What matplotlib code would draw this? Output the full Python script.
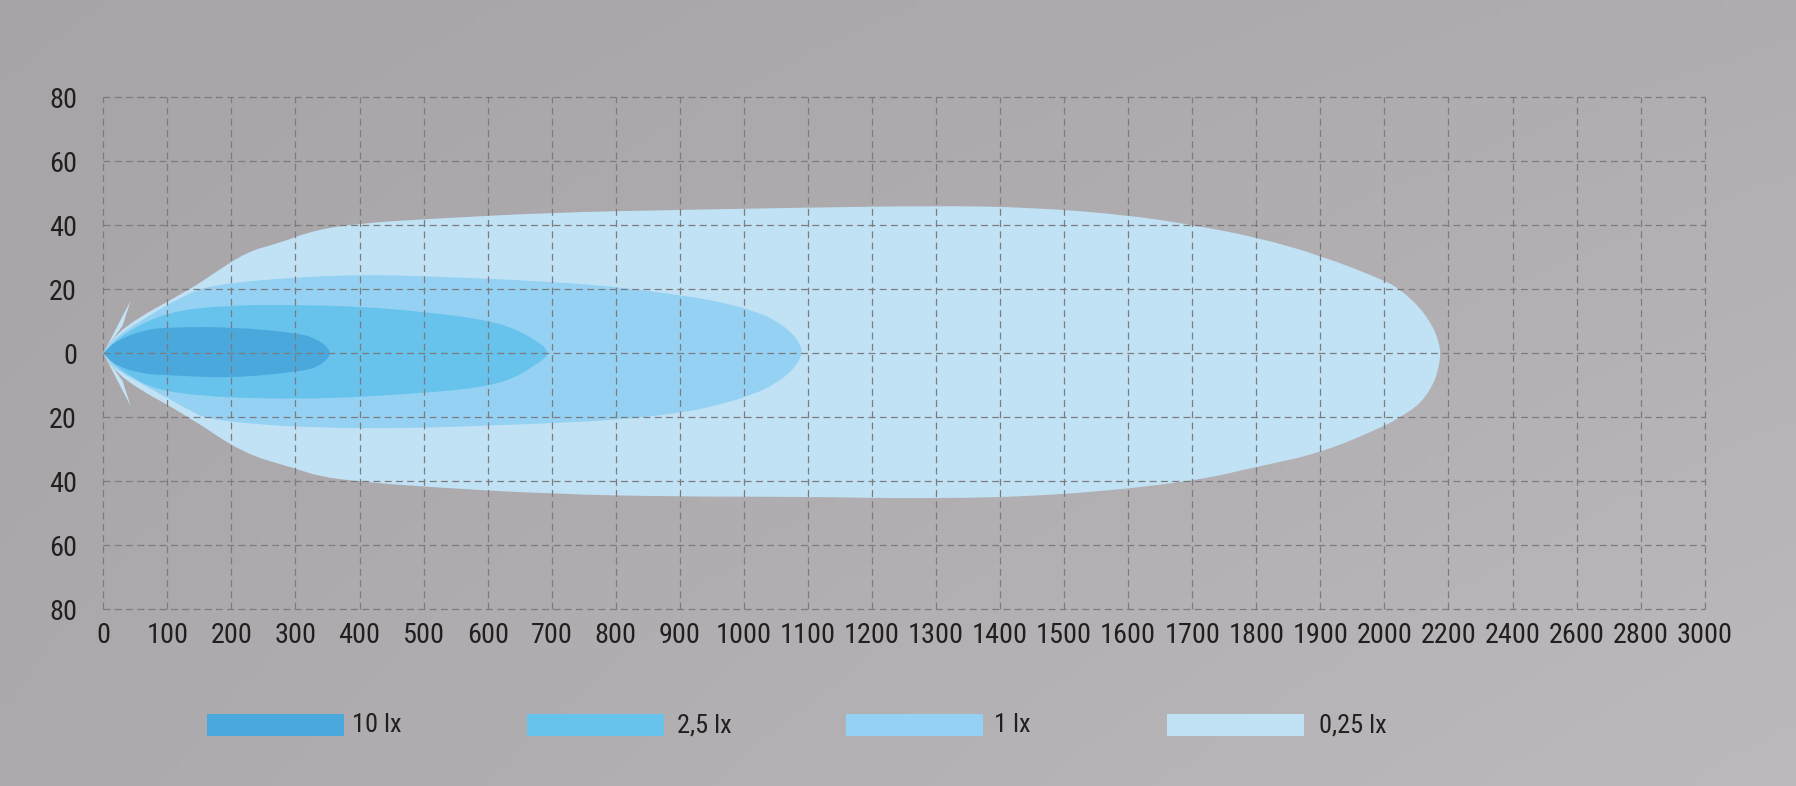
import numpy as np
import matplotlib
matplotlib.use("Agg")
import matplotlib.pyplot as plt
from matplotlib import font_manager as fm
from matplotlib.patches import Rectangle, PathPatch
from matplotlib.path import Path
from matplotlib.textpath import TextPath

# ---------------- data ----------------
X_TICKS = [0, 100, 200, 300, 400, 500, 600, 700, 800, 900, 1000, 1100, 1200, 1300,
           1400, 1500, 1600, 1700, 1800, 1900, 2000, 2200, 2400, 2600, 2800, 3000]
Y_TICKS = [-80, -60, -40, -20, 0, 20, 40, 60, 80]

LEVELS = ["10 lx", "2,5 lx", "1 lx", "0,25 lx"]
COLORS = ["#4aa8dc", "#67c3ec", "#94d1f3", "#c1e2f5"]

# 0,25 lx isoline (distance m, lateral m)
lx025_top_x = [0, 29, 134, 169, 225, 274, 330, 400, 500, 700, 900, 1090, 1300, 1450, 1600, 1700, 1800, 1900, 2000, 2048, 2110, 2152, 2168, 2176]
lx025_top_y = [0, 8.3, 19.8, 24.5, 31.8, 34.4, 38.5, 40.6, 41.9, 44.0, 44.8, 45.5, 46.1, 45.6, 43.2, 40.1, 36.3, 30.6, 22.8, 20.0, 14.5, 8.3, 4.0, 0]
lx025_bot_x = [0, 29, 134, 218, 299, 337, 400, 500, 700, 900, 1090, 1300, 1500, 1700, 1800, 1900, 2000, 2048, 2110, 2152, 2168, 2176]
lx025_bot_y = [0, -8.3, -19.8, -31.3, -35.9, -38.5, -40.1, -41.7, -44.0, -44.8, -44.8, -45.5, -44.3, -40.1, -35.5, -31.2, -22.8, -20.0, -16.0, -10.0, -5.0, 0]

# 1 lx isoline
lx1_top_x = [0, 15, 64, 127, 169, 299, 400, 499, 699, 800, 900, 960, 1010, 1048, 1074, 1087, 1092]
lx1_top_y = [0, 4.5, 10.9, 18.2, 21.4, 23.8, 24.5, 24.2, 22.4, 20.8, 18.2, 16.2, 13.6, 10.6, 6.6, 3.2, 0]
lx1_bot_x = [0, 15, 64, 127, 169, 400, 700, 800, 900, 960, 1010, 1048, 1079, 1092]
lx1_bot_y = [0, -4.5, -10.0, -17.0, -21.4, -24.0, -21.9, -20.8, -18.75, -16.2, -13.2, -9.8, -4.8, 0]

# 2,5 lx isoline
lx25_top_x = [0, 30, 99, 197, 309, 400, 500, 600, 647, 678, 690, 694]
lx25_top_y = [0, 6.0, 13.0, 15.1, 15.1, 14.6, 13.0, 10.4, 7.3, 3.6, 1.8, 0]
lx25_bot_x = [0, 30, 99, 309, 500, 600, 647, 678, 690, 694]
lx25_bot_y = [0, -6.0, -13.0, -14.6, -12.5, -10.4, -7.3, -3.1, -1.5, 0]

# 10 lx isoline
lx10_top_x = [0, 20, 64, 99, 197, 309, 335, 349, 355]
lx10_top_y = [0, 4.0, 7.3, 8.1, 8.3, 6.25, 4.2, 2.1, 0]
lx10_bot_x = [0, 20, 64, 99, 197, 309, 335, 349, 355]
lx10_bot_y = [0, -4.0, -6.5, -6.8, -7.8, -5.7, -4.2, -2.0, 0]

# lamp arrow barbs
arrow_x = [0, 43, 30, 10]
arrow_y = [0, 16.6, 8.6, 3.1]

# ---------------- font ----------------
RANK = {"ultra-condensed": 1, "extra-condensed": 2, "condensed": 3, "semi-condensed": 4}
SANS = ["Liberation Sans Narrow", "Roboto Condensed", "Open Sans Condensed", "Noto Sans",
        "Open Sans", "Roboto", "DejaVu Sans", "Liberation Sans", "Lato", "Inter"]

def _weight(w):
    if isinstance(w, str):
        return {"normal": 400, "regular": 400, "book": 400}.get(w.lower(), 0)
    return w

best = None
for f in fm.fontManager.ttflist:
    if f.name not in SANS or f.style != "normal" or _weight(f.weight) != 400:
        continue
    r = RANK.get(str(f.stretch), 5)
    if "Narrow" in f.name or "Condensed" in f.name:
        r = min(r, 3)
    key = (r, SANS.index(f.name))
    if best is None or key < best[0]:
        best = (key, f.fname)
FONT_FILE = best[1] if best else None

def fprop(size):
    if FONT_FILE:
        return fm.FontProperties(fname=FONT_FILE, size=size)
    return fm.FontProperties(family="DejaVu Sans", size=size)

def fit_size(text, target_px, max_size):
    w = TextPath((0, 0), text, prop=fprop(10)).get_extents().width
    s = 10 * target_px / (w * 100 / 72)
    return min(max_size, s)

TICK_SIZE = fit_size("1000", 52, 23)
LEG_SIZE = fit_size("0,25 lx", 75, 19)
TXT = "#231f20"

# ---------------- figure ----------------
W, H = 1796, 786
fig = plt.figure(figsize=(W / 100, H / 100), dpi=100)

# background
bg = fig.add_axes([0, 0, 1, 1], zorder=-10)
gx = np.linspace(0, 1, 200)
gy = np.linspace(0, 1, 100)
GX, GY = np.meshgrid(gx, gy)
val = 0.655 + 0.035 * GX + 0.05 * GY * (0.4 + 0.6 * GX)
img = np.clip(np.dstack([val, val * 0.985, val]), 0, 1)
bg.imshow(img, extent=[0, 1, 1, 0], aspect="auto")
bg.set_axis_off()

def fpx(x, y):
    return x / W, 1 - y / H

left, top = fpx(103.3, 97.3)
right, bottom = fpx(1704.7, 609.3)
ax = fig.add_axes([left, bottom, right - left, top - bottom])
ax.set_facecolor("none")

def fwd(x):
    x = np.asarray(x, float)
    return np.where(x <= 2000, x / 100.0, 20 + (x - 2000) / 200.0)

def inv(p):
    p = np.asarray(p, float)
    return np.where(p <= 20, p * 100.0, 2000 + (p - 20) * 200.0)

ax.set_xscale("function", functions=(fwd, inv))
ax.set_xlim(0, 3000)
ax.set_ylim(-80, 80)


def smooth_outline(tx, ty, bx, by):
    """Closed outline: sharp at the lamp origin, rounded (quadratic Bezier) elsewhere."""
    pts = list(zip(tx, ty)) + list(zip(bx[::-1], by[::-1]))[1:-1]
    n = len(pts)
    mid = lambda a, b: ((a[0] + b[0]) / 2, (a[1] + b[1]) / 2)
    verts = [pts[0], mid(pts[0], pts[1])]
    codes = [Path.MOVETO, Path.LINETO]
    for i in range(1, n):
        nxt = pts[(i + 1) % n]
        verts += [pts[i], mid(pts[i], nxt)]
        codes += [Path.CURVE3, Path.CURVE3]
    verts += [pts[0], pts[0]]
    codes += [Path.LINETO, Path.CLOSEPOLY]
    return Path(verts, codes)


shapes = [
    (lx025_top_x, lx025_top_y, lx025_bot_x, lx025_bot_y, COLORS[3]),
    (lx1_top_x, lx1_top_y, lx1_bot_x, lx1_bot_y, COLORS[2]),
    (lx25_top_x, lx25_top_y, lx25_bot_x, lx25_bot_y, COLORS[1]),
    (lx10_top_x, lx10_top_y, lx10_bot_x, lx10_bot_y, COLORS[0]),
]
for tx, ty, bx, by, c in shapes:
    ax.add_patch(PathPatch(smooth_outline(tx, ty, bx, by), facecolor=c,
                           edgecolor="none", lw=0, zorder=1, transform=ax.transData))

ax.fill(arrow_x, arrow_y, color="#c3e4f7", lw=0, zorder=1.5)
ax.fill(arrow_x, [-v for v in arrow_y], color="#c3e4f7", lw=0, zorder=1.5)

ax.set_xticks(X_TICKS)
ax.set_xticklabels([str(v) for v in X_TICKS])
ax.set_yticks(Y_TICKS)
ax.set_yticklabels([str(abs(v)) for v in Y_TICKS])
ax.minorticks_off()
ax.tick_params(axis="both", length=0, colors=TXT)
ax.tick_params(axis="x", pad=9)
ax.tick_params(axis="y", pad=19)
for lab in ax.get_xticklabels() + ax.get_yticklabels():
    lab.set_fontproperties(fprop(TICK_SIZE))
    lab.set_color(TXT)

ax.set_axisbelow(False)
ax.grid(True, color="#7d7b7d", linewidth=0.9, linestyle=(0, (5.5, 3.5)))
for s in ax.spines.values():
    s.set_visible(False)
for ln in ax.get_xgridlines() + ax.get_ygridlines():
    ln.set_clip_on(False)

# legend
leg_px = [207, 527, 846, 1167]
leg_tx = [352, 677, 994, 1319]
for lbl, c, x0, xt in zip(LEVELS, COLORS, leg_px, leg_tx):
    fx, fy = fpx(x0, 736)
    fig.add_artist(Rectangle((fx, fy), 137 / W, 22 / H, transform=fig.transFigure,
                             facecolor=c, edgecolor="none"))
    tx_, ty_ = fpx(xt, 725)
    fig.text(tx_, ty_, lbl, ha="left", va="center", color=TXT,
             fontproperties=fprop(LEG_SIZE))

fig.savefig("out.png", dpi=100)
